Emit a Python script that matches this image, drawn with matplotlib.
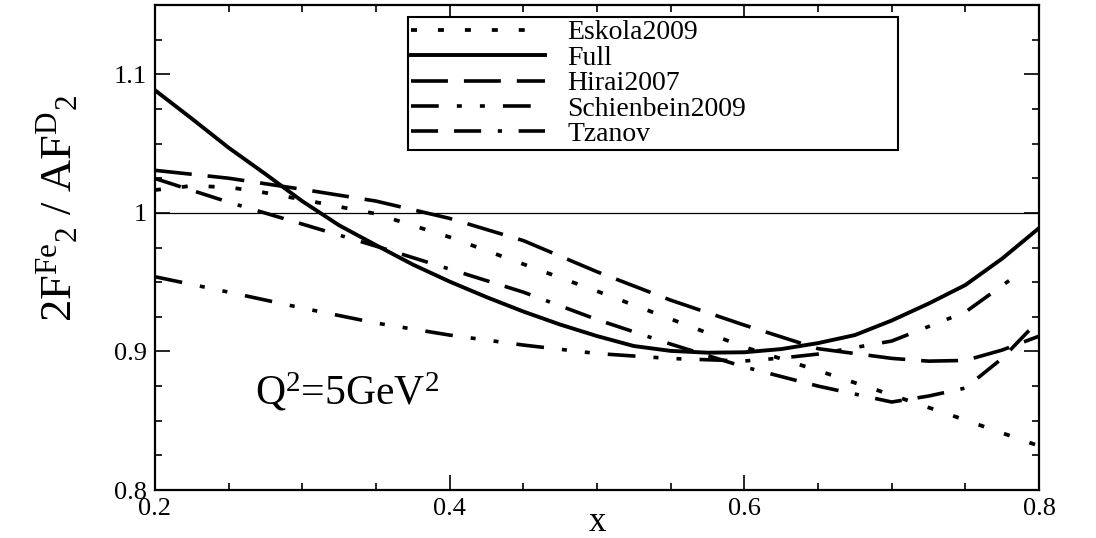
import matplotlib
matplotlib.use("Agg")
import matplotlib.pyplot as plt
from matplotlib.ticker import MultipleLocator, FormatStrFormatter

plt.rcParams['font.family'] = ['Liberation Serif', 'DejaVu Serif']
plt.rcParams['mathtext.fontset'] = 'custom'
plt.rcParams['mathtext.rm'] = 'Liberation Serif'
plt.rcParams['mathtext.it'] = 'Liberation Serif:italic'
plt.rcParams['lines.scale_dashes'] = False

# curves
x_full = [0.2, 0.225, 0.25, 0.275, 0.3, 0.325, 0.35, 0.375, 0.4, 0.425, 0.45, 0.475,
          0.5, 0.525, 0.55, 0.575, 0.6, 0.625, 0.65, 0.675, 0.7, 0.725, 0.75, 0.775, 0.8]
y_full = [1.0885, 1.068, 1.047, 1.028, 1.0084, 0.991, 0.9767, 0.9627, 0.9504, 0.9392,
          0.9288, 0.9194, 0.9111, 0.9039, 0.9004, 0.8991, 0.8994, 0.9017, 0.906, 0.9118,
          0.9223, 0.9345, 0.9479, 0.967, 0.989]

x_eskola = [0.2, 0.225, 0.25, 0.275, 0.3, 0.35, 0.4, 0.45, 0.5, 0.55, 0.6, 0.65, 0.7, 0.75, 0.8]
y_eskola = [1.0165, 1.0195, 1.0185, 1.0145, 1.0096, 0.9993, 0.9825, 0.963, 0.9435, 0.9234,
            0.9032, 0.8862, 0.8686, 0.8505, 0.8318]

x_hirai = [0.2, 0.25, 0.3, 0.35, 0.4, 0.45, 0.5, 0.55, 0.6, 0.65, 0.7, 0.725, 0.75, 0.775, 0.8]
y_hirai = [1.0307, 1.025, 1.017, 1.0085, 0.996, 0.980, 0.9575, 0.937, 0.919, 0.902, 0.895,
           0.893, 0.8935, 0.901, 0.911]

x_schien = [0.2, 0.25, 0.3, 0.35, 0.4, 0.45, 0.5, 0.55, 0.6, 0.625, 0.65, 0.7, 0.75, 0.784]
y_schien = [0.9539, 0.9428, 0.9313, 0.9205, 0.9118, 0.9046, 0.8985, 0.8949, 0.8931, 0.8952,
            0.8981, 0.9075, 0.9284, 0.9544]

x_tzanov = [0.2, 0.25, 0.3, 0.35, 0.4, 0.45, 0.5, 0.55, 0.6, 0.65, 0.7, 0.725, 0.75, 0.775, 0.8]
y_tzanov = [1.0248, 1.0077, 0.9919, 0.976, 0.9594, 0.9428, 0.923, 0.9053, 0.8888, 0.875,
            0.8635, 0.8678, 0.8736, 0.895, 0.9226]

fig = plt.figure(figsize=(10.96, 5.38), dpi=100)
ax = fig.add_axes([0.1414, 0.0892, 0.8066, 0.9015])

ax.axhline(1.0, color='black', lw=0.9)

ax.plot(x_eskola, y_eskola, color='black', lw=2.7, linestyle=(0, (4.3, 15.1)), label='Eskola2009')
ax.plot(x_full, y_full, color='black', lw=2.8, linestyle='-', label='Full')
ax.plot(x_hirai, y_hirai, color='black', lw=2.6, linestyle=(0, (26.6, 11.5)), label='Hirai2007')
ax.plot(x_schien, y_schien, color='black', lw=2.6,
        linestyle=(0, (20, 13, 3.6, 13, 3.6, 13)), label='Schienbein2009')
ax.plot(x_tzanov, y_tzanov, color='black', lw=2.6,
        linestyle=(0, (19.5, 11.5, 19.5, 12, 3, 12)), label='Tzanov')

ax.set_xlim(0.2, 0.8)
ax.set_ylim(0.8, 1.15)
ax.xaxis.set_major_locator(MultipleLocator(0.2))
ax.xaxis.set_minor_locator(MultipleLocator(0.05))
ax.yaxis.set_major_locator(MultipleLocator(0.1))
ax.yaxis.set_minor_locator(MultipleLocator(0.025))
ax.xaxis.set_major_formatter(FormatStrFormatter('%g'))
ax.yaxis.set_major_formatter(FormatStrFormatter('%g'))
ax.tick_params(which='both', direction='in', top=True, right=True, labelsize=19, width=1.2)
ax.tick_params(which='major', length=11, pad=6)
ax.tick_params(which='minor', length=5)
for s in ax.spines.values():
    s.set_linewidth(1.6)

ax.set_xlabel('x', fontsize=25, labelpad=-10)
ax.set_ylabel(r'$2\mathrm{F}^{\mathrm{Fe}}{}_{2}\ /\ \mathrm{AF}^{\mathrm{D}}{}_{2}$', fontsize=32)
ax.yaxis.set_label_coords(-0.085, 0.58)

ax.text(0.268, 0.8614, r'Q$^2$=5GeV$^2$', fontsize=30, ha='left', va='baseline')

leg = ax.legend(loc='upper left', bbox_to_anchor=(0.286, 0.693, 0.5545, 0.282), mode='expand',
                borderaxespad=0, fontsize=20, handlelength=4.85, handletextpad=0.8,
                labelspacing=0.0, borderpad=0.1, fancybox=False, framealpha=1)
leg.get_frame().set_edgecolor('black')
leg.get_frame().set_linewidth(1.5)

fig.savefig('out.png', dpi=100)
